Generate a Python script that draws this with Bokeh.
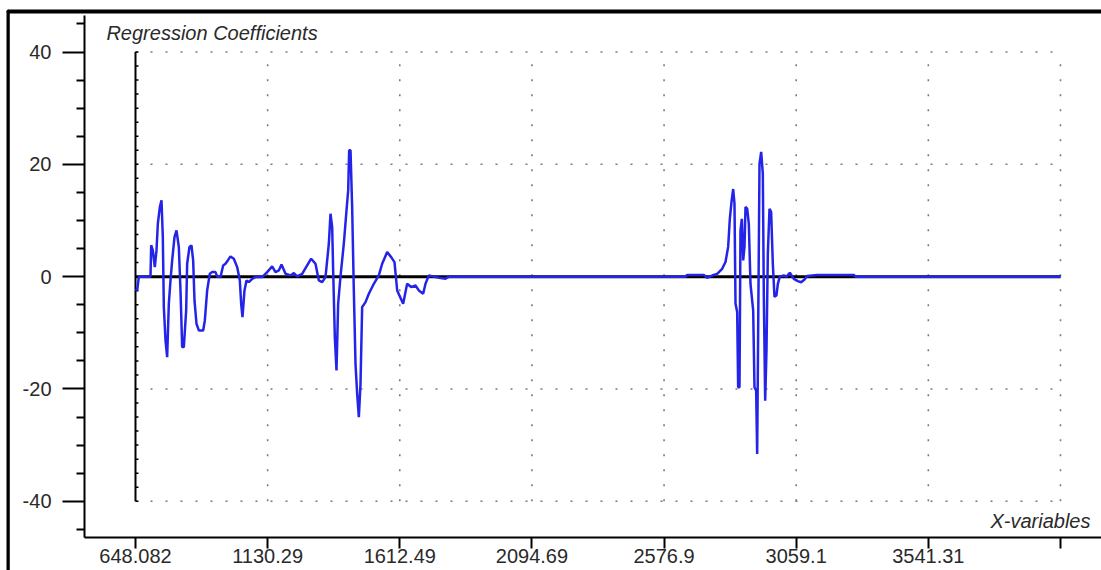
import numpy as np
from bokeh.plotting import figure
from bokeh.models import Range1d, FixedTicker, Label
from bokeh.embed import file_html
from bokeh.resources import INLINE

# ---------------- data ----------------
x_ticks = [648.082, 1130.29, 1612.49, 2094.69, 2576.9, 3059.1, 3541.31, 4023.51]
x_tick_labels = ["648.082", "1130.29", "1612.49", "2094.69", "2576.9", "3059.1", "3541.31", ""]
y_ticks = [-40, -20, 0, 20, 40]
y_tick_labels = ["-40", "-20", "0", "20", "40"]
y_minor_ticks = [-45, -35, -30, -25, -15, -10, -5, 5, 10, 15, 25, 30, 35, 45]
y_grid = [-40, -20, 20, 40]

wavenumber = [
    648.1, 654.2, 660.3, 702.8, 705.3, 711.3, 718.6, 724.7, 729.6, 736.9,
    743.0, 747.8, 751.5, 757.6, 763.6, 769.7, 775.8, 781.9, 790.4, 797.7,
    806.2, 812.3, 818.4, 824.5, 833.0, 836.6, 845.1, 852.4, 858.5, 863.4,
    870.7, 879.2, 895.0, 901.1, 909.6, 919.3, 927.9, 940.0, 946.1, 958.3,
    968.0, 976.5, 985.0, 994.8, 1006.9, 1019.1, 1028.8, 1033.7, 1038.5, 1045.8,
    1053.1, 1061.6, 1073.8, 1086.0, 1110.3, 1128.6, 1146.8, 1159.0, 1171.1, 1180.9,
    1195.5, 1213.7, 1225.9, 1238.0, 1256.3, 1274.5, 1289.1, 1304.9, 1317.1, 1329.3,
    1341.4, 1353.6, 1359.7, 1365.8, 1369.4, 1375.5, 1381.6, 1387.6, 1396.2, 1408.3,
    1418.1, 1424.2, 1427.8, 1432.7, 1438.7, 1444.8, 1450.9, 1457.0, 1463.1, 1469.2,
    1475.2, 1487.4, 1499.6, 1517.8, 1536.1, 1548.2, 1566.5, 1581.1, 1593.2, 1603.0,
    1624.8, 1639.4, 1654.0, 1669.8, 1682.0, 1697.8, 1706.4, 1718.5, 1742.9, 1761.1,
    1779.4, 1791.5,
    2655.0, 2661.2, 2722.0, 2734.2, 2752.4, 2770.7, 2788.9, 2801.1, 2810.8, 2816.9,
    2823.0, 2829.1, 2833.9, 2837.6, 2843.7, 2847.3, 2852.2, 2855.8, 2860.7, 2865.6,
    2870.4, 2874.1, 2880.2, 2886.2, 2892.3, 2902.1, 2906.9, 2913.0, 2916.7, 2920.3,
    2925.2, 2931.3, 2937.3, 2941.0, 2945.9, 2950.7, 2955.6, 2961.7, 2967.7, 2973.8,
    2979.9, 2987.2, 2992.1, 2999.4, 3014.0, 3023.7, 3035.9, 3050.5, 3065.1, 3077.2,
    3089.4, 3099.1, 3135.6, 3269.4, 3275.5, 4023.5,
]
coefficient = [
    -2.2, -2.45, 0.0, 0.0, 5.6, 4.67, 1.7, 4.67, 9.42, 12.39,
    13.58, 7.05, -5.42, -11.36, -14.33, -4.83, -0.67, 2.89, 7.05, 8.24,
    5.27, -2.45, -12.55, -12.55, -6.02, 2.3, 5.27, 5.56, 2.89, -4.24,
    -8.39, -9.58, -9.58, -7.8, -2.45, 0.51, 0.81, 0.81, 0.04, -0.08,
    2.0, 2.3, 2.89, 3.6, 3.19, 1.7, -0.67, -4.83, -7.21, -2.45,
    -0.67, -0.97, -0.38, -0.08, -0.08, 0.81, 1.82, 0.81, 1.11, 2.18,
    0.51, 0.22, 0.63, 0.04, 0.51, 2.0, 3.19, 2.3, -0.67, -0.97,
    -0.08, 5.86, 11.2, 8.83, 1.11, -10.77, -16.71, -4.83, 0.04, 5.86,
    11.8, 15.36, 22.49, 22.49, 12.39, -2.45, -15.52, -20.87, -25.02, -19.09,
    -5.42, -4.54, -3.05, -1.27, 0.22, 2.3, 4.37, 3.48, 2.59, -2.45,
    -4.83, -1.27, -1.86, -1.57, -2.45, -3.05, -1.27, 0.22, -0.08, -0.26,
    -0.38, 0.0,
    0.0, 0.3, 0.3, -0.2, 0.2, 0.5, 1.4, 2.6, 5.3, 10.3,
    13.3, 15.6, 13.0, -4.8, -6.3, -19.7, -19.7, 8.2, 10.3, 2.9,
    5.3, 12.4, 12.1, 9.4, -1.3, -6.0, -19.7, -20.3, -31.6, -9.6,
    20.1, 22.2, 18.3, -3.6, -22.1, -13.1, 4.1, 12.1, 11.5, 2.3,
    -3.6, -3.3, -1.3, 0.0, 0.2, 0.0, 0.7, -0.4, -0.8, -1.0,
    -0.5, 0.1, 0.3, 0.3, 0.0, 0.0,
]

FONT = "Liberation Sans"
TEXT = "#2a2a2a"
FS = "20px"

p = figure(
    width=1101, height=570,
    x_range=Range1d(462.0, 4173.2), y_range=Range1d(-46.45, 46.5),
    output_backend="svg", toolbar_location=None,
    min_border_left=84, min_border_right=0, min_border_top=15, min_border_bottom=33,
    background_fill_color="white", border_fill_color="white",
)
p.outline_line_color = None
p.xgrid.visible = False
p.ygrid.visible = False

# axes
xa = p.xaxis[0]
xa.ticker = FixedTicker(ticks=x_ticks, minor_ticks=[])
xa.major_label_overrides = dict(zip(x_ticks, x_tick_labels))
xa.axis_line_width = 2
xa.axis_line_color = "black"
xa.major_tick_line_width = 2
xa.major_tick_line_color = "black"
xa.major_tick_in = 0
xa.major_tick_out = 11
xa.minor_tick_in = 0
xa.minor_tick_out = 0
xa.major_label_standoff = 0
xa.major_label_text_font = FONT
xa.major_label_text_font_size = FS
xa.major_label_text_color = TEXT

ya = p.yaxis[0]
ya.ticker = FixedTicker(ticks=y_ticks, minor_ticks=y_minor_ticks)
ya.major_label_overrides = dict(zip(y_ticks, y_tick_labels))
ya.axis_line_width = 2
ya.axis_line_color = "black"
ya.major_tick_line_width = 2
ya.major_tick_line_color = "black"
ya.minor_tick_line_width = 2
ya.minor_tick_line_color = "black"
ya.major_tick_in = 0
ya.major_tick_out = 22
ya.minor_tick_in = 0
ya.minor_tick_out = 8
ya.major_label_standoff = 11
ya.major_label_text_font = FONT
ya.major_label_text_font_size = FS
ya.major_label_text_color = TEXT

# dotted grid bounded to the data box
gx0, gx1 = x_ticks[0], x_ticks[-1]
gy0, gy1 = y_ticks[0], y_ticks[-1]
p.segment(x0=x_ticks[1:], y0=[gy0] * (len(x_ticks) - 1), x1=x_ticks[1:], y1=[gy1] * (len(x_ticks) - 1),
          line_color="#7a7a7a", line_width=1.6, line_dash="2 13")
p.segment(x0=[gx0] * len(y_grid), y0=y_grid, x1=[gx1] * len(y_grid), y1=y_grid,
          line_color="#7a7a7a", line_width=1.6, line_dash="2 13")

# inner vertical black line with small ticks
p.segment(x0=[gx0], y0=[gy0], x1=[gx0], y1=[gy1], line_color="black", line_width=2)
small_ticks = np.arange(gy0, gy1 + 0.01, 2.5)
p.ray(x=[gx0] * len(small_ticks), y=small_ticks, length=3, length_units="screen",
      angle=0, line_color="black", line_width=1.5)

# zero line and coefficients
p.line(x=[wavenumber[0], wavenumber[-1]], y=[0, 0], line_color="black", line_width=3)
p.line(x=wavenumber, y=coefficient, line_color="#2424e8", line_width=2.5)

# titles
p.add_layout(Label(x=542.0, y=43.3, text="Regression Coefficients", text_font=FONT,
                   text_font_size=FS, text_font_style="italic", text_color=TEXT,
                   text_baseline="middle", text_align="left"))
p.add_layout(Label(x=4133.0, y=-43.6, text="X-variables", text_font=FONT,
                   text_font_size=FS, text_font_style="italic", text_color=TEXT,
                   text_baseline="middle", text_align="right"))

# outer panel frame: left edge (thin tall box in the left panel),
# top edge (thin wide box in the above panel)
p.add_layout(Label(x=7.5, y=10.5, x_units="canvas", y_units="canvas", text=" ",
                   text_font_size="1px", text_align="left", text_baseline="top",
                   padding=(0, 0, 600, 0),
                   border_line_color="black", border_line_width=3), "left")
p.add_layout(Label(x=7.5, y=10.5, x_units="canvas", y_units="canvas", text=" ",
                   text_font_size="1px", text_align="left", text_baseline="top",
                   padding=(0, 1200, 0, 0),
                   border_line_color="black", border_line_width=3), "above")

open("out.html", "w").write(file_html(p, INLINE))
